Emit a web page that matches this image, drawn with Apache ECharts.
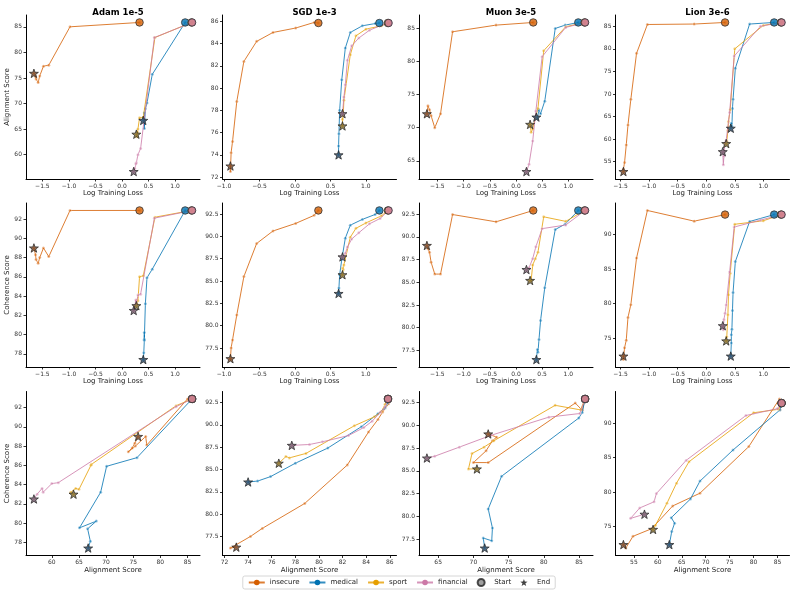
<!DOCTYPE html>
<html lang="en">
<head>
  <meta charset="UTF-8">
  <title>Alignment / Coherence vs Training Loss</title>
  <script src="https://cdn.jsdelivr.net/npm/echarts@6.0.0/dist/echarts.min.js"></script>
  <style>
    html, body { margin: 0; padding: 0; background: #fff; }
    #chart { width: 798px; height: 595px; }
  </style>
</head>
<body>
  <div id="chart"></div>
  <script>
    // dataset names and colours
    const datasets = ['insecure', 'medical', 'sport', 'financial'];
    const colors = ['#D55E00', '#0072B2', '#E69F00', '#CC79A7'];
    const starColors = ['#7a4a2a', '#2a4a66', '#7f6a2e', '#745a6c'];
    const optimizers = ['Adam 1e-5', 'SGD 1e-3', 'Muon 3e-5', 'Lion 3e-6'];

    // each checkpoint: [log training loss, alignment score, coherence score]
    // first row = start, last row = end
    const adamInsecure = [[0.33, 85.85, 92.9], [-0.98, 85.0, 92.9], [-1.38, 77.5, 88.1], [-1.48, 77.3, 89.0],
      [-1.55, 75.4, 88.0], [-1.58, 74.1, 87.4], [-1.62, 74.8, 87.8], [-1.63, 75.3, 88.3], [-1.66, 75.9, 89.0]];
    const adamMedical = [[1.19, 85.85, 92.9], [0.57, 75.7, 86.8], [0.47, 70.1, 85.9], [0.44, 69.0, 83.2],
      [0.42, 65.1, 79.5], [0.42, 68.2, 80.2], [0.42, 66.6, 79.4], [0.41, 67.1, 78.1], [0.40, 66.7, 77.4]];
    const adamSport = [[1.31, 85.85, 92.9], [0.62, 82.9, 92.2], [0.40, 67.3, 86.1], [0.33, 67.2, 86.0],
      [0.30, 65.0, 83.5], [0.29, 64.4, 83.6], [0.28, 63.5, 83.2], [0.27, 64.0, 83.0]];
    const adamFinancial = [[1.32, 85.85, 92.9], [0.61, 82.9, 92.1], [0.35, 61.2, 84.2], [0.30, 60.0, 84.1],
      [0.27, 58.4, 83.2], [0.26, 58.2, 83.6], [0.24, 57.3, 83.0], [0.22, 56.7, 82.5]];

    const sgdInsecure = [[0.33, 85.85, 92.9], [0.27, 85.9, 92.35], [0.01, 85.4, 91.45], [-0.31, 85.0, 90.6],
      [-0.54, 84.2, 89.2], [-0.72, 82.4, 85.5], [-0.82, 78.8, 81.2], [-0.88, 75.2, 78.4], [-0.90, 74.2, 77.5],
      [-0.91, 72.5, 76.2], [-0.91, 73.0, 76.3]];
    const sgdMedical = [[1.19, 85.85, 92.9], [1.13, 85.8, 92.45], [0.95, 85.6, 91.9], [0.78, 85.0, 91.25],
      [0.71, 83.6, 89.8], [0.66, 80.75, 87.4], [0.63, 78.0, 85.7], [0.62, 75.9, 84.2], [0.615, 74.8, 83.7],
      [0.615, 74.0, 83.6]];
    const sgdSport = [[1.31, 85.85, 92.9], [1.22, 85.6, 92.3], [1.0, 85.3, 91.5], [0.86, 84.7, 90.9],
      [0.78, 83.0, 89.9], [0.69, 78.9, 86.8], [0.68, 77.5, 86.3], [0.67, 77.2, 86.45], [0.67, 76.6, 85.7]];
    const sgdFinancial = [[1.32, 85.85, 92.9], [1.2, 85.6, 92.0], [1.05, 85.2, 91.4], [0.9, 84.5, 90.4],
      [0.8, 83.8, 89.7], [0.74, 82.5, 88.8], [0.71, 80.3, 88.1], [0.69, 79.2, 87.8], [0.67, 77.7, 87.7]];

    const muonInsecure = [[0.33, 85.85, 92.9], [-0.38, 85.45, 91.65], [-1.21, 84.45, 92.45], [-1.44, 72.1, 85.9],
      [-1.55, 70.0, 85.9], [-1.62, 71.8, 87.2], [-1.65, 72.7, 88.3], [-1.68, 73.3, 88.7], [-1.70, 72.1, 89.05]];
    const muonMedical = [[1.19, 85.85, 92.9], [0.94, 85.45, 91.4], [0.75, 84.95, 90.8], [0.55, 74.0, 84.4],
      [0.47, 72.1, 80.8], [0.44, 72.7, 78.7], [0.42, 72.6, 77.3], [0.41, 71.4, 77.6], [0.39, 71.6, 76.5]];
    const muonSport = [[1.31, 85.85, 92.9], [0.95, 85.2, 91.7], [0.53, 81.6, 92.2], [0.42, 72.9, 88.3],
      [0.37, 71.5, 87.6], [0.32, 69.8, 86.9], [0.29, 69.3, 85.2], [0.27, 70.5, 85.2]];
    const muonFinancial = [[1.32, 85.85, 92.9], [0.95, 85.1, 91.3], [0.50, 80.7, 90.9], [0.38, 72.5, 88.9],
      [0.32, 68.0, 87.6], [0.25, 64.5, 86.6], [0.20, 63.4, 86.4]];

    const lionInsecure = [[0.33, 85.85, 92.9], [-0.21, 85.5, 91.95], [-1.03, 85.4, 93.5], [-1.22, 79.0, 86.6],
      [-1.32, 68.8, 79.85], [-1.37, 63.1, 78.0], [-1.40, 58.7, 74.7], [-1.43, 54.8, 73.6], [-1.45, 53.3, 71.9],
      [-1.45, 52.8, 72.4]];
    const lionMedical = [[1.19, 85.85, 92.9], [0.76, 85.5, 91.9], [0.51, 75.7, 86.1], [0.47, 68.8, 81.6],
      [0.46, 66.8, 79.0], [0.45, 62.8, 76.3], [0.44, 63.5, 75.5], [0.44, 62.9, 74.3], [0.43, 62.4, 72.4]];
    const lionSport = [[1.31, 85.85, 92.9], [1.0, 85.2, 92.0], [0.50, 80.0, 91.5], [0.42, 66.5, 84.4],
      [0.39, 63.9, 81.3], [0.38, 61.9, 78.4], [0.36, 59.5, 75.2], [0.35, 59.0, 74.6]];
    const lionFinancial = [[1.32, 85.85, 92.9], [0.95, 85.0, 92.1], [0.49, 78.4, 91.1], [0.41, 65.9, 84.6],
      [0.35, 59.7, 79.8], [0.33, 59.2, 78.6], [0.31, 56.2, 77.7], [0.30, 54.3, 76.2], [0.29, 57.2, 76.8]];

    const runs = [
      [adamInsecure, adamMedical, adamSport, adamFinancial],
      [sgdInsecure, sgdMedical, sgdSport, sgdFinancial],
      [muonInsecure, muonMedical, muonSport, muonFinancial],
      [lionInsecure, lionMedical, lionSport, lionFinancial]
    ];

    // tick labels per optimizer column
    const lossTicks = [[-1.5, -1.0, -0.5, 0, 0.5, 1.0], [-1.0, -0.5, 0, 0.5, 1.0],
      [-1.5, -1.0, -0.5, 0, 0.5, 1.0], [-1.5, -1.0, -0.5, 0, 0.5, 1.0]];
    const alignTicks = [[60, 65, 70, 75, 80, 85], [72, 74, 76, 78, 80, 82, 84, 86],
      [65, 70, 75, 80, 85], [55, 60, 65, 70, 75, 80, 85]];
    const cohTicks = [[78, 80, 82, 84, 86, 88, 90, 92], [77.5, 80, 82.5, 85, 87.5, 90, 92.5],
      [77.5, 80, 82.5, 85, 87.5, 90, 92.5], [75, 80, 85, 90]];

    // rows: which values go on x / y
    const rowDefs = [
      { xi: 0, yi: 1, xTicks: lossTicks, yTicks: alignTicks, xName: 'Log Training Loss', yName: 'Alignment Score' },
      { xi: 0, yi: 2, xTicks: lossTicks, yTicks: cohTicks, xName: 'Log Training Loss', yName: 'Coherence Score' },
      { xi: 1, yi: 2, xTicks: alignTicks, yTicks: cohTicks, xName: 'Alignment Score', yName: 'Coherence Score' }
    ];

    const colLeft = [26, 222.5, 419, 615.5];
    const rowTop = [15, 203, 391.5];
    const panelW = 174, panelH = 164;
    const font = 'DejaVu Sans';
    const starPath = 'path://M0,-10L2.35,-3.24L9.51,-3.09L3.8,1.24L5.88,8.09L0,4.1L-5.88,8.09L-3.8,1.24L-9.51,-3.09L-2.35,-3.24Z';

    function padRange(vals) {
      const lo = Math.min(...vals), hi = Math.max(...vals);
      const m = (hi - lo) * 0.05;
      return [lo - m, hi + m];
    }

    function makeAxis(g, vals, ticks, name, showName, isY) {
      const r = padRange(vals);
      const digits = ticks.some(t => Math.round(t) !== t) ? 1 : 0;
      return {
        gridIndex: g,
        type: 'value',
        min: r[0],
        max: r[1],
        name: showName ? name : '',
        nameLocation: 'middle',
        nameGap: isY ? 15 : 9,
        nameTextStyle: { fontFamily: font, fontSize: 7, color: '#222' },
        axisLine: { show: true, onZero: false, lineStyle: { color: '#000', width: 1 } },
        axisTick: { show: true, length: 2.5, customValues: ticks, lineStyle: { color: '#000', width: 0.8 } },
        axisLabel: {
          customValues: ticks, margin: 4, fontFamily: font, fontSize: 6, color: '#333',
          formatter: v => v.toFixed(digits).replace('-', '\u2212')
        },
        splitLine: { show: false }
      };
    }

    const grids = [], xAxes = [], yAxes = [], series = [];
    rowDefs.forEach((rd, r) => {
      for (let c = 0; c < 4; c++) {
        const g = grids.length;
        grids.push({ left: colLeft[c], top: rowTop[r], width: panelW, height: panelH });
        const all = [].concat(...runs[c]);
        xAxes.push(makeAxis(g, all.map(p => p[rd.xi]), rd.xTicks[c], rd.xName, true, false));
        yAxes.push(makeAxis(g, all.map(p => p[rd.yi]), rd.yTicks[c], rd.yName, c === 0, true));

        runs[c].forEach((run, d) => {
          const pts = run.map(p => [p[rd.xi], p[rd.yi]]);
          series.push({
            type: 'line', name: datasets[d], xAxisIndex: g, yAxisIndex: g,
            data: pts, symbol: 'circle', symbolSize: 3, showAllSymbol: true,
            lineStyle: { color: colors[d], width: 1, opacity: 0.8 },
            itemStyle: { color: colors[d], opacity: 0.5, borderColor: '#fff', borderWidth: 0.5 },
            z: 2 + d, silent: true
          });
        });
        runs[c].forEach((run, d) => {
          const s = run[0], e = run[run.length - 1];
          series.push({
            type: 'scatter', name: datasets[d] + ' start', xAxisIndex: g, yAxisIndex: g,
            data: [[s[rd.xi], s[rd.yi]]], symbol: 'circle', symbolSize: 7.5,
            itemStyle: { color: colors[d], borderColor: '#333', borderWidth: 1 },
            z: 10 + d, silent: true
          });
          series.push({
            type: 'scatter', name: datasets[d] + ' end', xAxisIndex: g, yAxisIndex: g,
            data: [[e[rd.xi], e[rd.yi]]], symbol: starPath, symbolKeepAspect: true, symbolSize: 9,
            itemStyle: { color: starColors[d], borderColor: '#222', borderWidth: 0.9 },
            z: 20 + d, silent: true
          });
        });
      }
    });

    // legend-only entries
    series.push({ type: 'scatter', name: 'Start', data: [], symbol: 'circle',
      itemStyle: { color: '#888', borderColor: '#222', borderWidth: 1 } });
    series.push({ type: 'scatter', name: 'End', data: [], symbol: starPath,
      itemStyle: { color: '#111' } });

    const titles = optimizers.map((t, c) => ({
      text: t, left: colLeft[c] + panelW / 2, top: 3, textAlign: 'center',
      textStyle: { fontFamily: font, fontSize: 8.5, fontWeight: 'bold', color: '#000' }
    }));

    const chart = echarts.init(document.getElementById('chart'), null, { renderer: 'canvas' });
    chart.setOption({
      animation: false,
      backgroundColor: '#fff',
      title: titles,
      grid: grids,
      xAxis: xAxes,
      yAxis: yAxes,
      legend: {
        left: 'center', top: 576,
        itemWidth: 16, itemHeight: 7, itemGap: 9,
        padding: [2, 5],
        borderColor: '#ccc', borderWidth: 0.8, borderRadius: 2,
        textStyle: { fontFamily: font, fontSize: 7, color: '#222' },
        data: datasets.map(n => ({ name: n, itemStyle: { opacity: 1, borderWidth: 0 } }))
          .concat([{ name: 'Start', icon: 'circle' }, { name: 'End', icon: starPath }])
      },
      series: series
    });
  </script>
</body>
</html>
